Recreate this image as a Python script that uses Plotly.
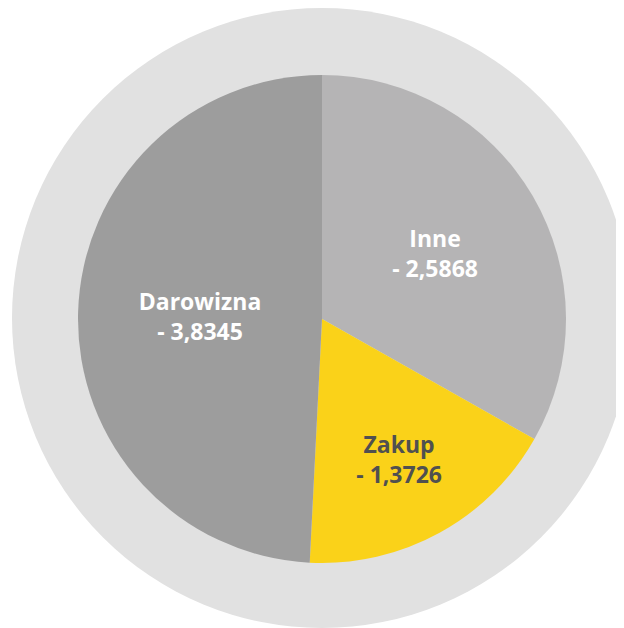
import plotly.graph_objects as go

# slice data (clockwise from 12 o'clock)
labels = ["Inne", "Zakup", "Darowizna"]
values = [2.5868, 1.3726, 3.8345]
value_text = ["2,5868", "1,3726", "3,8345"]

COLORS = ["#b5b4b5", "#fad219", "#9d9d9d"]
TEXT_COLORS = ["#ffffff", "#505050", "#ffffff"]
RING = "#e1e1e1"

# page body has an 8px margin, so the figure is 8px smaller than the window
OFF = 8
W, H = 624 - OFF, 628 - OFF


def px(x):
    return (x - OFF) / W


def py(y):
    return (H - (y - OFF)) / H


fig = go.Figure()

fig.add_trace(go.Pie(
    labels=labels,
    values=values,
    text=[f"{l}<br>- {v}" for l, v in zip(labels, value_text)],
    textinfo="text",
    textposition="inside",
    insidetextorientation="horizontal",
    insidetextfont=dict(family="Open Sans", size=23, weight="bold", color=TEXT_COLORS),
    marker=dict(colors=COLORS, line=dict(width=0)),
    sort=False,
    direction="clockwise",
    rotation=0,
    hoverinfo="label+value",
    showlegend=False,
    domain=dict(x=[px(78), px(566)], y=[py(563), py(75)]),
))

# light grey disc behind the pie
fig.add_shape(
    type="circle",
    xref="paper", yref="paper",
    x0=px(12), x1=px(632),
    y0=py(628), y1=py(8),
    fillcolor=RING,
    line=dict(width=0),
    layer="below",
)

fig.update_layout(
    width=W,
    height=H,
    margin=dict(l=0, r=0, t=0, b=0),
    paper_bgcolor="white",
    plot_bgcolor="white",
    font=dict(family="Open Sans"),
    uniformtext=dict(minsize=23, mode="show"),
)

fig.write_html("out.html")
